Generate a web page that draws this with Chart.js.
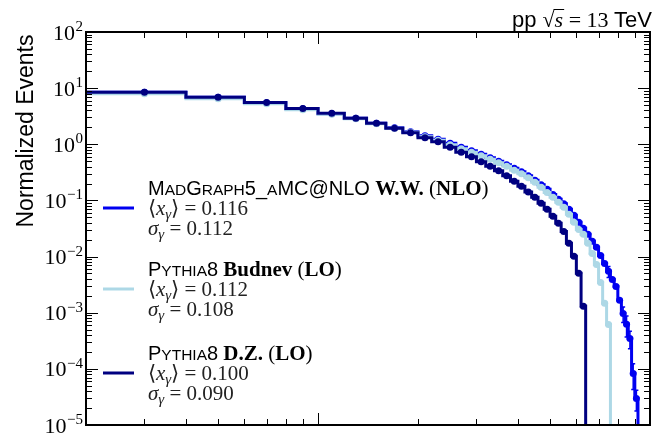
<!DOCTYPE html>
<html>
<head>
<meta charset="utf-8">
<script src="https://cdn.jsdelivr.net/npm/chart.js@4.4.0/dist/chart.umd.min.js"></script>
<style>
  html, body { margin: 0; padding: 0; background: #fff; }
  canvas { display: block; }
</style>
</head>
<body>
<canvas id="c" width="654" height="434"></canvas>
<script>
// ── Data (x_gamma bins of width 0.02) ─────────────────────────────
const binEdges = [0.02, 0.04, 0.06, 0.08, 0.10, 0.12, 0.14, 0.16, 0.18, 0.20,
                  0.22, 0.24, 0.26, 0.28, 0.30, 0.32, 0.34, 0.36, 0.38, 0.40,
                  0.42, 0.44, 0.46, 0.48, 0.50, 0.52, 0.54, 0.56, 0.58, 0.60,
                  0.62, 0.64, 0.66, 0.68, 0.70, 0.72, 0.74, 0.76, 0.78, 0.80,
                  0.82, 0.84, 0.86, 0.88, 0.90, 0.92];

// MadGraph5_aMC@NLO W.W. (NLO)
const nloValues = [8.45, 6.88, 5.49, 4.29, 3.50, 2.91, 2.37, 1.97, 1.67, 1.42,
                   1.23, 1.04, 0.884, 0.766, 0.663, 0.574, 0.498, 0.431, 0.373, 0.323,
                   0.274, 0.228, 0.190, 0.158, 0.128, 0.105, 0.087, 0.0694, 0.0543, 0.0407,
                   0.0318, 0.0249, 0.0187, 0.0146, 0.0105, 0.00756, 0.00545, 0.00392, 0.00294, 0.00166,
                   0.00097, 0.00062, 0.000348, 0.000083, 0.0000297];
// stat. errors of the NLO sample (only visible in the last bins)
const nloErrors = [0, 0, 0, 0, 0, 0, 0, 0, 0, 0,
                   0, 0, 0, 0, 0, 0, 0, 0, 0, 0,
                   0, 0, 0, 0, 0, 0, 0, 0, 0, 0,
                   0, 0, 0, 0, 0, 0, 0.0012, 0, 0, 0,
                   0.0003, 0.00025, 0.00012, 0.00004, 0.000012];

// Pythia8 Budnev (LO)
const budnevValues = [7.95, 6.47, 5.27, 4.12, 3.43, 2.85, 2.32, 1.93, 1.64, 1.36,
                      1.18, 0.98, 0.831, 0.720, 0.624, 0.540, 0.468, 0.405, 0.344, 0.298,
                      0.253, 0.210, 0.171, 0.139, 0.114, 0.0925, 0.0753, 0.0565, 0.0407, 0.0305,
                      0.0249, 0.0172, 0.0114, 0.00726, 0.00347, 0.00147, 0.000618];

// Pythia8 D.Z. (LO)
const dzValues = [8.45, 6.88, 5.54, 4.33, 3.57, 2.91, 2.37, 1.93, 1.60, 1.31,
                  1.11, 0.884, 0.720, 0.599, 0.488, 0.405, 0.337, 0.274, 0.219, 0.178,
                  0.142, 0.114, 0.0888, 0.0694, 0.0521, 0.0391, 0.0281, 0.0172, 0.0101, 0.00502,
                  0.00130];

const yTickExps = [2, 1, 0, -1, -2, -3, -4, -5];
const xMajorTicks = [0.1, 1];
const xMinorTicks = [0.02, 0.03, 0.04, 0.05, 0.06, 0.07, 0.08, 0.09,
                     0.2, 0.3, 0.4, 0.5, 0.6, 0.7, 0.8, 0.9];

const meanValues  = ['0.116', '0.112', '0.100'];
const sigmaValues = ['0.112', '0.108', '0.090'];

const NLO_COLOR = '#0000f0';
const BUD_COLOR = '#add8e6';
const DZ_COLOR  = '#000080';

// ── Helpers ──────────────────────────────────────────────────────
function stepData(vals) {
    const d = vals.map((v, i) => ({ x: binEdges[i], y: v }));
    const end = binEdges[vals.length];
    d.push({ x: end, y: vals[vals.length - 1] });
    d.push({ x: end, y: 1e-9 });   // drop to the floor (clipped)
    return d;
}
function centerData(vals) {
    return vals.map((v, i) => ({ x: (binEdges[i] + binEdges[i + 1]) / 2, y: v }));
}

function lineSet(vals, color, order) {
    // chart.js 'before' = horizontal first, then vertical (histogram step)
    return { data: stepData(vals), borderColor: color, borderWidth: 3, stepped: 'before',
             pointRadius: 0, fill: false, clip: 0, order };
}
function pointSet(vals, color, order) {
    return { data: centerData(vals), showLine: false, pointRadius: 3.5, pointBorderWidth: 0,
             pointBackgroundColor: color, borderColor: color, order };
}

const SANS  = '"Liberation Sans", Arial, sans-serif';
const SERIF = '"Liberation Serif", "Times New Roman", serif';

function runsWidth(ctx, runs) {
    let w = 0;
    runs.forEach(r => { ctx.font = r.font; w += ctx.measureText(r.t).width; });
    return w;
}
function drawRuns(ctx, runs, x, y) {
    runs.forEach(r => {
        ctx.font = r.font;
        ctx.fillText(r.t, x, y + (r.dy || 0));
        x += ctx.measureText(r.t).width;
    });
    return x;
}
// small caps: upper case / digits big, lower case as small capitals
function smallCaps(str, big, small) {
    const runs = [];
    for (const ch of str) {
        const low = ch !== ch.toUpperCase();
        runs.push({ t: low ? ch.toUpperCase() : ch, font: low ? small : big });
    }
    return runs;
}

const SC_BIG   = `20px ${SANS}`;
const SC_SMALL = `15.5px ${SANS}`;
const BOLD     = `bold 21px ${SERIF}`;
const REG      = `21px ${SERIF}`;
const ITAL     = `italic 21px ${SERIF}`;
const SUB      = `italic 15px ${SERIF}`;

const legendTitles = [
    [...smallCaps('MadGraph5_aMC@NLO', SC_BIG, SC_SMALL),
     { t: ' W.W. ', font: BOLD }, { t: '(', font: REG }, { t: 'NLO', font: BOLD }, { t: ')', font: REG }],
    [...smallCaps('Pythia8', SC_BIG, SC_SMALL),
     { t: ' Budnev ', font: BOLD }, { t: '(', font: REG }, { t: 'LO', font: BOLD }, { t: ')', font: REG }],
    [...smallCaps('Pythia8', SC_BIG, SC_SMALL),
     { t: ' D.Z. ', font: BOLD }, { t: '(', font: REG }, { t: 'LO', font: BOLD }, { t: ')', font: REG }],
];
const legendColors = [NLO_COLOR, BUD_COLOR, DZ_COLOR];
const legendTop = [195, 276, 360];

// ── Error bars for the NLO sample ───────────────────────────────
const errorBarPlugin = {
    id: 'errbars',
    afterDatasetsDraw(chart) {
        const { ctx, scales: { x, y } } = chart;
        ctx.save();
        ctx.strokeStyle = NLO_COLOR;
        ctx.lineWidth = 1.5;
        ctx.beginPath();
        nloErrors.forEach((err, i) => {
            if (!err) return;
            const px = x.getPixelForValue((binEdges[i] + binEdges[i + 1]) / 2);
            const yHi = y.getPixelForValue(nloValues[i] + err);
            const yLo = y.getPixelForValue(Math.max(nloValues[i] - err, 1e-9));
            ctx.moveTo(px, yHi); ctx.lineTo(px, yLo);
            ctx.moveTo(px - 2, yHi); ctx.lineTo(px + 2, yHi);
            ctx.moveTo(px - 2, yLo); ctx.lineTo(px + 2, yLo);
        });
        ctx.stroke();
        ctx.restore();
    }
};

// ── Axes, ticks, labels, legend ──────────────────────────────────
const decorPlugin = {
    id: 'decor',
    afterDraw(chart) {
        const { ctx, chartArea: a, scales: { x, y } } = chart;
        ctx.save();
        ctx.fillStyle = '#000';
        ctx.strokeStyle = '#000';

        // ticks (pointing inward, both sides)
        ctx.lineWidth = 1;
        ctx.beginPath();
        const yTick = (v, len) => {
            const py = Math.round(y.getPixelForValue(v)) + 0.5;
            ctx.moveTo(a.left, py);  ctx.lineTo(a.left + len, py);
            ctx.moveTo(a.right, py); ctx.lineTo(a.right - len, py);
        };
        const xTick = (v, len) => {
            const px = Math.round(x.getPixelForValue(v)) + 0.5;
            ctx.moveTo(px, a.top);    ctx.lineTo(px, a.top + len);
            ctx.moveTo(px, a.bottom); ctx.lineTo(px, a.bottom - len);
        };
        yTickExps.forEach(e => yTick(Math.pow(10, e), 12));
        yTickExps.forEach(e => {
            if (e >= 2) return;
            for (let m = 2; m <= 9; m++) yTick(m * Math.pow(10, e), 6);
        });
        xMajorTicks.forEach(v => xTick(v, 12));
        xMinorTicks.forEach(v => xTick(v, 6));
        ctx.stroke();

        // frame
        ctx.lineWidth = 2;
        ctx.strokeRect(a.left, a.top, a.right - a.left, a.bottom - a.top);

        // y tick labels 10^n
        ctx.textBaseline = 'alphabetic';
        yTickExps.forEach(e => {
            const py = y.getPixelForValue(Math.pow(10, e));
            const expTxt = e < 0 ? '\u2212' + (-e) : String(e);
            ctx.font = `15px ${SERIF}`;
            const ew = ctx.measureText(expTxt).width;
            const ex = 83 - ew;
            ctx.fillText(expTxt, ex, py - 1);
            ctx.font = `22px ${SERIF}`;
            const bw = ctx.measureText('10').width;
            ctx.fillText('10', ex - bw - 0.5, py + 7.5);
        });

        // y axis title
        ctx.save();
        ctx.translate(33, 131);
        ctx.rotate(-Math.PI / 2);
        ctx.font = `23px ${SANS}`;
        ctx.textAlign = 'center';
        ctx.fillText('Normalized Events', 0, 0);
        ctx.restore();

        // top-right label: pp sqrt(s) = 13 TeV
        const tRuns = [
            { t: 'pp ', font: `22px ${SANS}` },
            { t: '\u221A', font: `22px ${SERIF}` },
            { t: 's', font: `italic 22px ${SERIF}` },
            { t: ' = 13 ', font: `22px ${SERIF}` },
            { t: 'TeV', font: `22px ${SANS}` },
        ];
        const tw = runsWidth(ctx, tRuns);
        const tx = 652 - tw;
        const tBase = 27;
        ctx.font = tRuns[0].font;
        const wpp = ctx.measureText(tRuns[0].t).width;
        ctx.font = tRuns[1].font;
        const wrad = ctx.measureText(tRuns[1].t).width;
        ctx.font = tRuns[2].font;
        const ws = ctx.measureText(tRuns[2].t).width;
        drawRuns(ctx, tRuns, tx, tBase);
        ctx.lineWidth = 1;
        ctx.beginPath();
        ctx.moveTo(tx + wpp + wrad - 1, tBase - 17.5);
        ctx.lineTo(tx + wpp + wrad + ws + 1, tBase - 17.5);
        ctx.stroke();

        // legend
        legendTitles.forEach((runs, i) => {
            const base = legendTop[i];
            ctx.strokeStyle = legendColors[i];
            ctx.lineWidth = 3;
            ctx.beginPath();
            ctx.moveTo(103, base + 13);
            ctx.lineTo(134, base + 13);
            ctx.stroke();

            ctx.fillStyle = '#000';
            drawRuns(ctx, runs, 148, base);
            ctx.fillStyle = '#222';
            drawRuns(ctx, [
                { t: '\u27E8', font: REG },
                { t: 'x', font: ITAL },
                { t: '\u03B3', font: SUB, dy: 4 },
                { t: '\u27E9 = ' + meanValues[i], font: REG },
            ], 148, base + 20);
            drawRuns(ctx, [
                { t: '\u03C3', font: ITAL },
                { t: '\u03B3', font: SUB, dy: 4 },
                { t: ' = ' + sigmaValues[i], font: REG },
            ], 148, base + 40);
        });
        ctx.restore();
    }
};

// ── Chart ────────────────────────────────────────────────────────
new Chart(document.getElementById('c'), {
    type: 'line',
    data: {
        datasets: [
            lineSet(nloValues, NLO_COLOR, 6),
            pointSet(nloValues, NLO_COLOR, 5),
            lineSet(budnevValues, BUD_COLOR, 4),
            pointSet(budnevValues, BUD_COLOR, 3),
            lineSet(dzValues, DZ_COLOR, 2),
            pointSet(dzValues, DZ_COLOR, 1),
        ]
    },
    options: {
        responsive: false,
        animation: false,
        devicePixelRatio: 1,
        layout: { padding: { left: 86, right: 2, top: 32, bottom: 9 } },
        plugins: { legend: { display: false }, tooltip: { enabled: false } },
        scales: {
            x: { type: 'logarithmic', min: 0.02, max: 1, display: false },
            y: { type: 'logarithmic', min: 1e-5, max: 100, display: false }
        }
    },
    plugins: [errorBarPlugin, decorPlugin]
});
</script>
</body>
</html>
